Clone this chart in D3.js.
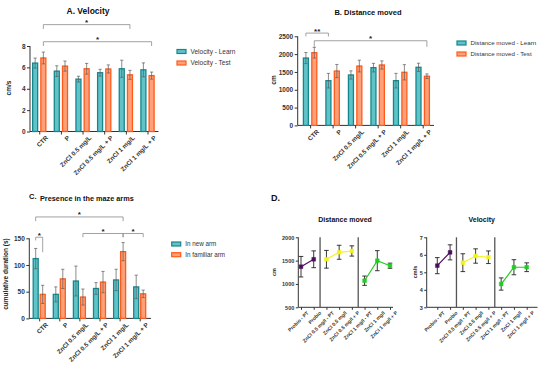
<!DOCTYPE html>
<html>
<head>
<meta charset="utf-8">
<script src="https://cdn.jsdelivr.net/npm/d3@7"></script>
<style>
  body { margin: 0; background: #fff; }
  svg { display: block; font-family: "Liberation Sans", Arial, sans-serif; }
  .tick text { font-weight: bold; fill: #333; }
</style>
</head>
<body>
<svg id="fig" width="550" height="368"></svg>
<script>
// ---- data ----
const groups = ["CTR", "P", "ZnCl 0.5 mg/L", "ZnCl 0.5 mg/L + P", "ZnCl 1 mg/L", "ZnCl 1 mg/L + P"];

const velLearn = [6.4, 5.65, 4.9, 5.5, 5.87, 5.77];
const velLearnErr = [0.47, 0.5, 0.27, 0.32, 0.8, 0.65];
const velTest = [6.88, 6.12, 5.87, 5.85, 5.3, 5.23];
const velTestErr = [0.55, 0.47, 0.5, 0.38, 0.42, 0.33];

const distLearn = [1890, 1255, 1415, 1620, 1255, 1630];
const distLearnErr = [155, 205, 115, 120, 205, 115];
const distTest = [2040, 1525, 1665, 1695, 1490, 1380];
const distTestErr = [150, 185, 165, 115, 215, 65];

const newArm = [112, 45, 70, 56, 72, 59];
const newArmErr = [19, 14, 28, 11, 20, 22];
const familiarArm = [45, 74, 40, 68, 125, 46];
const familiarArmErr = [17, 18, 15, 20, 17, 7];

// significance brackets: [group, series] ends, level, left/right drop (data units)
const velSig = [
  { a: [0, 1], b: [4, 1], y: 10, dl: 0.4, dr: 0.4, label: "*" },
  { a: [0, 1], b: [5, 1], y: 8.4, dl: 0.4, dr: 0.4, label: "*" }
];
const distSig = [
  { a: [0, 0], b: [1, 0], y: 2590, dl: 95, dr: 95, label: "**" },
  { a: [0, 1], b: [5, 1], y: 2375, dl: 170, dr: 170, label: "*" }
];
const armSig = [
  { a: [0, 0], b: [0, 1], y: 152, dl: 6, dr: 28, label: "*" },
  { a: [0, 0], b: [4, 1], y: 190, dl: 8, dr: 8, label: "*" },
  { a: [2, 1], b: [4, 1], y: 159, dl: 7, dr: 7, label: "*" },
  { a: [4, 1], b: [5, 1], y: 159, dl: 7, dr: 7, label: "*" }
];

const dCats = ["Probio - PT", "Probio", "ZnCl 0.5 mg/l - PT", "ZnCl 0.5 mg/l", "ZnCl 0.5 mg/l + P",
  "ZnCl 1 mg/l - PT", "ZnCl 1 mg/l", "ZnCl 1 mg/l + P"];
const dGroups = [[0, 1], [2, 3, 4], [5, 6, 7]];
const dDist = [1370, 1529, 1529, 1679, 1707, 1070, 1499, 1391];
const dDistErr = [220, 180, 190, 150, 110, 100, 215, 55];
const dVel = [5.38, 6.14, 5.55, 5.93, 5.86, 4.33, 5.29, 5.29];
const dVelErr = [0.46, 0.43, 0.51, 0.41, 0.36, 0.35, 0.43, 0.25];

const teal = { fill: "#5fc3c8", stroke: "#17868c" };
const orange = { fill: "#ffa078", stroke: "#ff5a1c" };
const dColors = ["#4b0f5e", "#f2f21a", "#22cc22"];

const svg = d3.select("#fig");
const axisColor = "#333";
const fmt = d3.format("d");

function styleAxis(g) {
  g.selectAll("path.domain").remove();
  g.selectAll("line").attr("stroke", axisColor);
}

function barPanel(o) {
  const g = svg.append("g");
  const x = d3.scalePoint().domain(groups).range(o.xr);
  const y = d3.scaleLinear().domain(o.yd).range(o.yr);

  g.append("text").attr("x", o.title[0]).attr("y", o.title[1]).attr("text-anchor", "middle")
    .attr("font-size", o.titleSize).attr("font-weight", "bold").attr("fill", "#111").text(o.titleText);

  // axes
  g.append("line").attr("x1", o.ax0).attr("x2", o.ax0).attr("y1", y(o.yd[0])).attr("y2", y(o.yd[1]))
    .attr("stroke", axisColor).attr("stroke-width", 1);
  g.append("line").attr("x1", o.ax0).attr("x2", o.ax1).attr("y1", y(0)).attr("y2", y(0))
    .attr("stroke", axisColor).attr("stroke-width", 1);

  g.append("g").attr("transform", `translate(${o.ax0},0)`)
    .call(d3.axisLeft(y).tickValues(o.ticks).tickFormat(fmt).tickSize(3).tickPadding(1.5))
    .call(styleAxis)
    .selectAll("text").attr("font-size", 6.5);

  const xa = g.append("g").attr("transform", `translate(0,${y(0)})`)
    .call(d3.axisBottom(x).tickSize(3).tickPadding(2))
    .call(styleAxis);
  xa.selectAll("text").attr("font-size", 6.3)
    .attr("text-anchor", "end").attr("transform", "translate(3,1) rotate(-45)")
    .attr("dy", "0.5em");

  g.append("text").attr("transform", `translate(${o.ylab[0]},${o.ylab[1]}) rotate(-90)`)
    .attr("text-anchor", "middle").attr("font-size", 6.5).attr("font-weight", "bold").attr("fill", "#222")
    .text(o.ylabText);

  const bw = 5;
  const series = o.series;
  series.forEach((s, si) => {
    const cx = (i) => x(groups[i]) + (si === 0 ? -o.off : o.off);
    g.append("g").selectAll("rect").data(s.values).join("rect")
      .attr("x", (d, i) => cx(i) - bw / 2).attr("width", bw)
      .attr("y", d => y(d)).attr("height", d => y(0) - y(d))
      .attr("fill", s.col.fill).attr("stroke", s.col.stroke).attr("stroke-width", 1.3);
    const eg = g.append("g").attr("stroke", "#5a5a5a").attr("stroke-width", 0.7);
    s.values.forEach((v, i) => {
      const e = s.err[i];
      eg.append("line").attr("x1", cx(i)).attr("x2", cx(i)).attr("y1", y(v - e)).attr("y2", y(v + e));
      [v - e, v + e].forEach(t => eg.append("line")
        .attr("x1", cx(i) - 1.6).attr("x2", cx(i) + 1.6).attr("y1", y(t)).attr("y2", y(t)));
    });
  });

  // brackets
  const bx = (p) => x(groups[p[0]]) + (p[1] === 0 ? -o.off : o.off);
  o.sig.forEach(b => {
    const x1 = bx(b.a), x2 = bx(b.b);
    g.append("path")
      .attr("d", `M${x1},${y(b.y - b.dl)}V${y(b.y)}H${x2}V${y(b.y - b.dr)}`)
      .attr("fill", "none").attr("stroke", "#8a8a8a").attr("stroke-width", 0.8);
    g.append("text").attr("x", (x1 + x2) / 2).attr("y", y(b.y) + 0.5).attr("text-anchor", "middle")
      .attr("font-size", 8).attr("font-weight", "bold").attr("fill", "#222").text(b.label);
  });

  // legend
  series.forEach((s, si) => {
    const ly = o.leg[1] + si * o.legStep;
    g.append("rect").attr("x", o.leg[0]).attr("y", ly - 2).attr("width", 9).attr("height", 4)
      .attr("fill", s.col.fill).attr("stroke", s.col.stroke).attr("stroke-width", 1.2);
    g.append("text").attr("x", o.leg[0] + 13.5).attr("y", ly + 2.2)
      .attr("font-size", o.legSize).attr("fill", "#333").text(s.name);
  });
}

barPanel({
  titleText: "A. Velocity", title: [88, 14], titleSize: 8.5,
  xr: [39.25, 147.5], ax0: 30, ax1: 158.5, off: 4.1,
  yd: [0, 8], yr: [131.5, 46], ticks: [0, 2, 4, 6, 8],
  ylab: [11, 88], ylabText: "cm/s",
  series: [
    { name: "Velocity - Learn", values: velLearn, err: velLearnErr, col: teal },
    { name: "Velocity - Test", values: velTest, err: velTestErr, col: orange }
  ],
  sig: velSig, leg: [177, 51.5], legStep: 11.5, legSize: 6.5
});

barPanel({
  titleText: "B. Distance moved", title: [368, 15], titleSize: 7.5,
  xr: [310.1, 422.7], ax0: 297.7, ax1: 434, off: 4.2,
  yd: [0, 2500], yr: [125.4, 36.3], ticks: [0, 500, 1000, 1500, 2000, 2500],
  ylab: [276, 80], ylabText: "cm",
  series: [
    { name: "Distance moved - Learn", values: distLearn, err: distLearnErr, col: teal },
    { name: "Distance moved - Test", values: distTest, err: distTestErr, col: orange }
  ],
  sig: distSig, leg: [457, 43], legStep: 11, legSize: 6.2
});

barPanel({
  titleText: "", title: [0, 0], titleSize: 7.5,
  xr: [39.2, 139.7], ax0: 29.3, ax1: 151, off: 3.5,
  yd: [0, 150], yr: [318.4, 238.3], ticks: [0, 50, 100, 150],
  ylab: [8, 274], ylabText: "cumulative duration (s)",
  series: [
    { name: "In new arm", values: newArm, err: newArmErr, col: teal },
    { name: "In familiar arm", values: familiarArm, err: familiarArmErr, col: orange }
  ],
  sig: armSig, leg: [171.7, 244], legStep: 10.7, legSize: 6.3
});
svg.append("text").attr("x", 29).attr("y", 199).attr("font-size", 7.5).attr("font-weight", "bold")
  .attr("fill", "#111").text("C.");
svg.append("text").attr("x", 40).attr("y", 201).attr("font-size", 7.3).attr("font-weight", "bold")
  .attr("fill", "#111").text("Presence in the maze arms");

// ---- panel D ----
svg.append("text").attr("x", 271).attr("y", 201).attr("font-size", 9).attr("font-weight", "bold")
  .attr("fill", "#111").text("D.");

function linePanel(o) {
  const g = svg.append("g");
  const x = d3.scalePoint().domain(dCats).range(o.xr);
  const y = d3.scaleLinear().domain(o.yd).range([307.3, 237.3]);

  g.append("text").attr("x", o.title[0]).attr("y", o.title[1]).attr("text-anchor", "middle")
    .attr("font-size", 7).attr("font-weight", "bold").attr("fill", "#111").text(o.titleText);

  g.append("line").attr("x1", o.ax0).attr("x2", o.ax0).attr("y1", y.range()[0]).attr("y2", y.range()[1])
    .attr("stroke", axisColor);
  g.append("line").attr("x1", o.ax0).attr("x2", o.ax1).attr("y1", y.range()[0]).attr("y2", y.range()[0])
    .attr("stroke", axisColor);

  g.append("g").attr("transform", `translate(${o.ax0},0)`)
    .call(d3.axisLeft(y).tickValues(o.ticks).tickFormat(fmt).tickSize(2.5).tickPadding(1.5))
    .call(styleAxis)
    .selectAll("text").attr("font-size", 5.5);

  const xa = g.append("g").attr("transform", `translate(0,${y.range()[0]})`)
    .call(d3.axisBottom(x).tickSize(2.5).tickPadding(2))
    .call(styleAxis);
  xa.selectAll("text").attr("font-size", 5)
    .attr("text-anchor", "end").attr("transform", "translate(2.5,1) rotate(-45)")
    .attr("dy", "0.5em");

  g.append("text").attr("transform", `translate(${o.ylab[0]},${o.ylab[1]}) rotate(-90)`)
    .attr("text-anchor", "middle").attr("font-size", 5.5).attr("font-weight", "bold").attr("fill", "#222")
    .text(o.ylabText);

  // group separators
  [[1, 2], [4, 5]].forEach(([a, b]) => {
    const sx = (x(dCats[a]) + x(dCats[b])) / 2;
    g.append("line").attr("x1", sx).attr("x2", sx).attr("y1", y.range()[0]).attr("y2", y.range()[1])
      .attr("stroke", "#555").attr("stroke-width", 1.3);
  });

  const line = d3.line().x(i => x(dCats[i])).y(i => y(o.values[i]));
  dGroups.forEach((idx, gi) => {
    g.append("path").attr("d", line(idx)).attr("fill", "none")
      .attr("stroke", dColors[gi]).attr("stroke-width", 1.2);
  });

  const eg = g.append("g").attr("stroke", "#222").attr("stroke-width", 0.9);
  o.values.forEach((v, i) => {
    const cx = x(dCats[i]), e = o.err[i];
    eg.append("line").attr("x1", cx).attr("x2", cx).attr("y1", y(v - e)).attr("y2", y(v + e));
    [v - e, v + e].forEach(t => eg.append("line")
      .attr("x1", cx - 2.3).attr("x2", cx + 2.3).attr("y1", y(t)).attr("y2", y(t)));
  });

  dGroups.forEach((idx, gi) => {
    g.append("g").selectAll("path").data(idx).join("path")
      .attr("d", d3.symbol(d3.symbolSquare, 14))
      .attr("transform", i => `translate(${x(dCats[i])},${y(o.values[i])})`)
      .attr("fill", dColors[gi]).attr("stroke", dColors[gi]).attr("stroke-width", 0.5);
  });
}

linePanel({
  titleText: "Distance moved", title: [345, 222],
  xr: [301, 390], ax0: 298.3, ax1: 393,
  yd: [500, 2000], ticks: [500, 1000, 1500, 2000],
  values: dDist, err: dDistErr, ylab: [276, 272], ylabText: "cm"
});

linePanel({
  titleText: "Velocity", title: [481.7, 222],
  xr: [437.3, 526.7], ax0: 426.7, ax1: 537.5,
  yd: [3, 7], ticks: [3, 4, 5, 6, 7],
  values: dVel, err: dVelErr, ylab: [416.5, 272], ylabText: "cm/s"
});
</script>
</body>
</html>
